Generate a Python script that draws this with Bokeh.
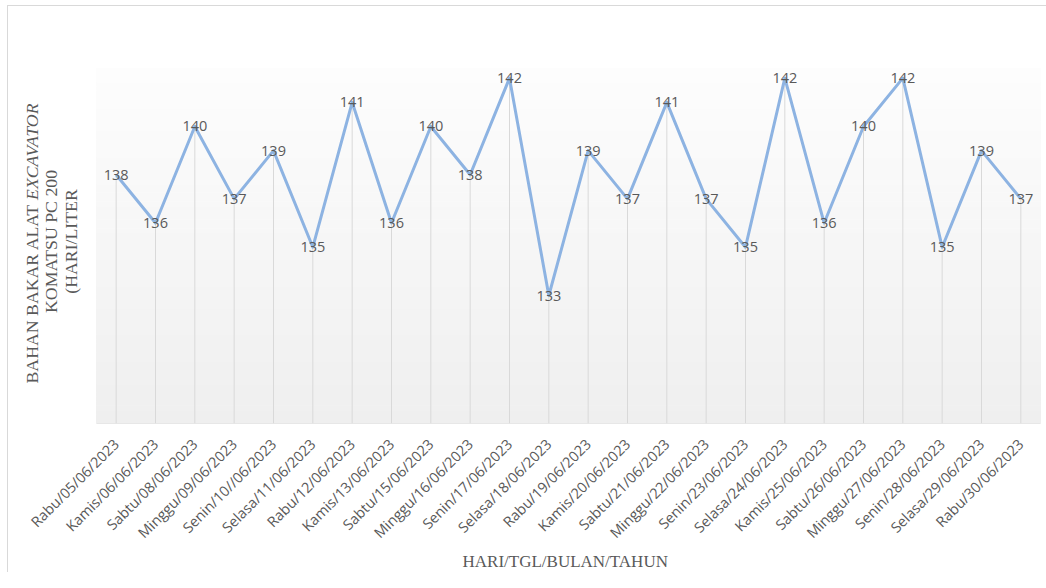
import math
import numpy as np
from bokeh.plotting import figure
from bokeh.models import Range1d, FixedTicker, Label, Title
from bokeh.core.properties import value
from bokeh.embed import file_html
from bokeh.resources import INLINE

# ---- data ----
dates = [
    "Rabu/05/06/2023", "Kamis/06/06/2023", "Sabtu/08/06/2023", "Minggu/09/06/2023",
    "Senin/10//06/2023", "Selasa/11/06/2023", "Rabu/12/06/2023", "Kamis/13/06/2023",
    "Sabtu/15/06/2023", "Minggu/16/06/2023", "Senin/17/06/2023", "Selasa/18/06/2023",
    "Rabu/19/06/2023", "Kamis/20/06/2023", "Sabtu/21/06/2023", "Minggu/22/06/2023",
    "Senin/23/06/2023", "Selasa/24/06/2023", "Kamis/25/06/2023", "Sabtu/26/06/2023",
    "Minggu/27/06/2023", "Senin/28/06/2023", "Selasa/29/06/2023", "Rabu/30/06/2023",
]
fuel = [138, 136, 140, 137, 139, 135, 141, 136, 140, 138, 142, 133,
        139, 137, 141, 137, 135, 142, 136, 140, 142, 135, 139, 137]
x_title = "HARI/TGL/BULAN/TAHUN"
y_title_1a = "BAHAN BAKAR ALAT "
y_title_1b = "EXCAVATOR"
y_title_2 = "KOMATSU PC 200"
y_title_3 = "(HARI/LITER"

# ---- layout (page pixel geometry) ----
n = len(dates)
xs = list(range(n))
OX, OY = 8, 6              # canvas origin on the page (margin + border)
CW = 1046 - OX             # canvas / frame width
PL, PR = 96, 1040          # plot-area left/right (page px)
PT, PB = 68, 423           # plot-area top/bottom (page px)
y0, y1 = 127.7, 142.4      # value range shown in plot area
xa0, xa1 = -0.5, n - 0.5   # category extent of plot area

ppx = (PR - PL) / (xa1 - xa0)
ppy = (PB - PT) / (y1 - y0)
FH = PB - OY
xr_start = xa0 - (PL - OX) / ppx
xr_end = xr_start + CW / ppx
yr_start = y0
yr_end = y0 + FH / ppy

def px_x(px):
    return xa0 + (px - PL) / ppx

def px_y(py):
    return y0 + (PB - py) / ppy

p = figure(frame_width=CW, frame_height=FH, output_backend="svg",
           toolbar_location=None, y_axis_location=None,
           x_range=Range1d(xr_start, xr_end), y_range=Range1d(yr_start, yr_end),
           min_border=0, min_border_left=0, min_border_right=0,
           min_border_top=0, min_border_bottom=0)
p.styles = {"margin-left": "7px", "margin-top": "5px",
            "border-left": "1px solid #d9d9d9", "border-top": "1px solid #d9d9d9"}
p.outline_line_color = None
p.background_fill_color = "white"
p.border_fill_color = "white"
p.xgrid.visible = False
p.ygrid.visible = False

# gradient plot-area background
nb = 80
edges = np.linspace(y0, y1, nb + 1)
cols = []
for i in range(nb):
    t = (i + 0.5) / nb  # 0 bottom -> 1 top
    c = int(round(239 + (253 - 239) * t))
    cols.append("#%02x%02x%02x" % (c, c, c))
p.quad(left=xa0, right=xa1, bottom=edges[:-1], top=edges[1:],
       fill_color=cols, line_color=cols, line_width=1)

# bottom edge of plot area
p.segment(x0=[xa0], y0=[y0], x1=[xa1], y1=[y0], line_color="#d9d9d9", line_width=1)

# drop lines
p.segment(x0=xs, y0=fuel, x1=xs, y1=[y0] * n, line_color="#d9d9d9", line_width=1)

# series
p.line(xs, fuel, line_color="#8db3e2", line_width=3, line_join="round")

# data labels
p.text(xs, fuel, text=[str(v) for v in fuel], text_align="center",
       text_baseline="middle", text_color="#595959",
       text_font=value("Open Sans"), text_font_size="14.5px")

# x axis
ax = p.xaxis[0]
ax.ticker = FixedTicker(ticks=xs)
ax.major_label_overrides = {i: d for i, d in enumerate(dates)}
ax.major_label_orientation = math.pi / 4
ax.major_label_text_font = "Open Sans"
ax.major_label_text_font_size = "14.5px"
ax.major_label_text_color = "#595959"
ax.major_label_standoff = 12
ax.major_tick_line_color = None
ax.minor_tick_line_color = None
ax.axis_line_color = None

p.add_layout(Title(text=x_title, align="left", offset=462 - OX, standoff=0,
                   vertical_align="top", text_line_height=0.7,
                   text_font="Liberation Serif", text_font_size="17px",
                   text_font_style="normal", text_color="#595959"), "below")

# y axis title (three lines, rotated)
tf = "Liberation Serif"
ts = "17.75px"
tc = "#595959"
p.add_layout(Label(x=px_x(31), y=px_y(383), text=y_title_1a, angle=math.pi / 2,
                   text_align="left", text_baseline="middle", text_font=tf,
                   text_font_size=ts, text_color=tc))
p.add_layout(Label(x=px_x(31), y=px_y(103), text=y_title_1b, angle=math.pi / 2,
                   text_align="right", text_baseline="middle", text_font=tf,
                   text_font_size=ts, text_color=tc, text_font_style="italic"))
p.add_layout(Label(x=px_x(50), y=px_y(241), text=y_title_2, angle=math.pi / 2,
                   text_align="center", text_baseline="middle", text_font=tf,
                   text_font_size=ts, text_color=tc))
p.add_layout(Label(x=px_x(70), y=px_y(241), text=y_title_3, angle=math.pi / 2,
                   text_align="center", text_baseline="middle", text_font=tf,
                   text_font_size=ts, text_color=tc))

open("out.html", "w").write(file_html(p, INLINE))
